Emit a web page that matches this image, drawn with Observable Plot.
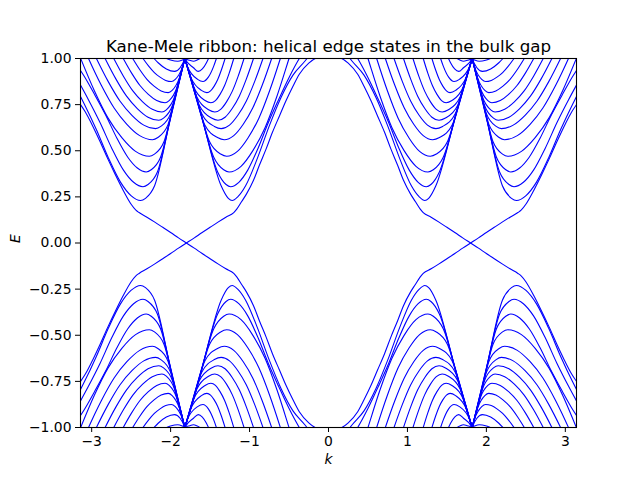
<!DOCTYPE html>
<html>
<head>
<meta charset="utf-8">
<script src="https://cdn.jsdelivr.net/npm/d3@7"></script>
<script src="https://cdn.jsdelivr.net/npm/@observablehq/plot@0.6"></script>
<style>
  body { margin: 0; background: white; }
  #chart svg { display: block; }
</style>
</head>
<body>
<div id="chart"></div>
<script>
// ---- Data (upper-left quadrant: k < 0, E > 0) ----
// The chart is symmetric under k -> -k and E -> -E; the other quadrants mirror these.
const titleText = "Kane-Mele ribbon: helical edge states in the bulk gap";
const xTicks = [-3, -2, -1, 0, 1, 2, 3];
const yTicks = [-1, -0.75, -0.5, -0.25, 0, 0.25, 0.5, 0.75, 1];

// Edge band: left arm, gap-crossing edge state, then the central dome down to k = 0
const edgeBand = [
  [-3.1416, 0.75], [-3.08, 0.71], [-3.0, 0.645], [-2.9, 0.555], [-2.8, 0.46], [-2.7, 0.37],
  [-2.6, 0.285], [-2.5, 0.21], [-2.44, 0.178], [-2.4, 0.165], [-2.3, 0.14], [-2.2, 0.113],
  [-2.1, 0.085], [-2.0, 0.057], [-1.9, 0.028], [-1.8, 0.0], [-1.7, -0.028], [-1.6, -0.057],
  [-1.5, -0.085], [-1.4, -0.113], [-1.3, -0.14], [-1.2, -0.165], [-1.16, -0.185], [-1.1, -0.225],
  [-1.04, -0.265], [-0.95, -0.34], [-0.877, -0.42], [-0.79, -0.51], [-0.71, -0.6], [-0.62, -0.69],
  [-0.54, -0.77], [-0.45, -0.85], [-0.37, -0.915], [-0.25, -0.975], [-0.12, -1.01], [0, -1.02]
];

// Bulk sub-bands of the outer valley (k from -pi to about -1.8)
const outerValleyBands = [
  [[-3.1416,0.794],[-3.094,0.754],[-2.941,0.615],[-2.788,0.461],[-2.635,0.330],[-2.502,0.257],[-2.38,0.23],[-2.318,0.242],[-2.203,0.31],[-2.012,0.655],[-1.82,1.0],[-1.79,1.054]],
  [[-3.1416,0.856],[-3.043,0.778],[-2.8945,0.653],[-2.746,0.514],[-2.5975,0.395],[-2.4688,0.329],[-2.35,0.305],[-2.286,0.317],[-2.1675,0.385],[-1.9937,0.6925],[-1.82,1.0],[-1.79,1.053]],
  [[-3.1416,0.935],[-3.1005,0.9078],[-2.961,0.8032],[-2.8215,0.6925],[-2.682,0.5695],[-2.5425,0.465],[-2.4216,0.4065],[-2.31,0.385],[-2.246,0.397],[-2.1275,0.465],[-1.9737,0.7325],[-1.82,1.0],[-1.79,1.052]],
  [[-3.1416,1.002],[-2.966,0.8251],[-2.792,0.6767],[-2.618,0.5707],[-2.444,0.4965],[-2.27,0.47],[-2.2046,0.482],[-2.0832,0.55],[-1.9516,0.775],[-1.82,1.0],[-1.79,1.051]],
  [[-3.1416,1.10],[-3.04,1.0],[-2.878,0.8548],[-2.716,0.7316],[-2.554,0.6436],[-2.392,0.582],[-2.23,0.56],[-2.1615,0.572],[-2.0343,0.64],[-1.9271,0.82],[-1.82,1.0],[-1.79,1.05]],
  [[-3.09,1.1368],[-2.94,1.0],[-2.79,0.8746],[-2.64,0.7682],[-2.49,0.6922],[-2.34,0.639],[-2.19,0.62],[-2.1241,0.632],[-2.0018,0.70],[-1.9109,0.85],[-1.82,1.0],[-1.79,1.05]],
  [[-2.966,1.1206],[-2.83,1.0],[-2.694,0.8895],[-2.558,0.7957],[-2.422,0.7287],[-2.286,0.6818],[-2.15,0.665],[-2.0896,0.677],[-1.9774,0.745],[-1.8987,0.8725],[-1.82,1.0],[-1.79,1.049]],
  [[-2.842,1.1044],[-2.72,1.0],[-2.598,0.9043],[-2.476,0.8231],[-2.354,0.7651],[-2.232,0.7245],[-2.11,0.71],[-2.0547,0.722],[-1.9521,0.79],[-1.886,0.895],[-1.82,1.0],[-1.79,1.048]],
  [[-2.706,1.0864],[-2.60,1.0],[-2.494,0.9208],[-2.388,0.8536],[-2.282,0.8056],[-2.176,0.772],[-2.07,0.76],[-2.0184,0.772],[-1.9226,0.84],[-1.8713,0.92],[-1.82,1.0],[-1.79,1.047]],
  [[-2.57,1.0666],[-2.48,1.0],[-2.39,0.939],[-2.30,0.8872],[-2.21,0.8502],[-2.12,0.8243],[-2.03,0.815],[-1.9805,0.827],[-1.8886,0.895],[-1.82,1.0],[-1.79,1.046]],
  [[-2.422,1.045],[-2.35,1.0],[-2.278,0.9588],[-2.206,0.9238],[-2.134,0.8988],[-2.062,0.8813],[-1.99,0.875],[-1.941,0.887],[-1.85,0.955],[-1.82,1.0],[-1.79,1.045]],
  [[-2.262,1.0252],[-2.21,1.0],[-2.158,0.9769],[-2.054,0.9433],[-1.95,0.93],[-1.88,0.95],[-1.82,1.0],[-1.79,1.045]],
  [[-2.1,1.01],[-2.05,1.0],[-1.99,0.99],[-1.91,0.985],[-1.86,0.99],[-1.82,1.0],[-1.79,1.04]]
];

// Bulk sub-bands of the inner valley (k from about -1.8 towards 0)
const innerValleyBands = [
  [[-1.85,1.045],[-1.82,1.0],[-1.59,0.655],[-1.36,0.31],[-1.269,0.242],[-1.22,0.23],[-1.15,0.25],[-1.05,0.31],[-0.9,0.46],[-0.75,0.635],[-0.6,0.79],[-0.45,0.91],[-0.3,0.985],[-0.2,1.04],[-0.1,1.08]],
  [[-1.85,1.044],[-1.82,1.0],[-1.6122,0.6925],[-1.4045,0.385],[-1.2976,0.317],[-1.24,0.305],[-1.136,0.329],[-1.023,0.395],[-0.892,0.514],[-0.762,0.653],[-0.631,0.778],[-0.501,0.896],[-0.37,1.0],[-0.24,1.083]],
  [[-1.85,1.044],[-1.82,1.0],[-1.6368,0.7325],[-1.4536,0.465],[-1.3278,0.397],[-1.26,0.385],[-1.108,0.4158],[-0.956,0.5019],[-0.804,0.6249],[-0.652,0.797],[-0.50,1.0],[-0.348,1.2064]],
  [[-1.85,1.043],[-1.82,1.0],[-1.6638,0.775],[-1.5075,0.55],[-1.3661,0.482],[-1.29,0.47],[-1.154,0.4965],[-1.018,0.5707],[-0.882,0.6767],[-0.746,0.8251],[-0.61,1.0],[-0.474,1.1908]],
  [[-1.85,1.043],[-1.82,1.0],[-1.6932,0.82],[-1.5665,0.64],[-1.4063,0.572],[-1.32,0.56],[-1.20,0.582],[-1.08,0.6436],[-0.96,0.7316],[-0.84,0.8548],[-0.72,1.0],[-0.60,1.1584]],
  [[-1.85,1.042],[-1.82,1.0],[-1.7129,0.85],[-1.6057,0.70],[-1.446,0.632],[-1.36,0.62],[-1.254,0.639],[-1.148,0.6922],[-1.042,0.7682],[-0.936,0.8746],[-0.83,1.0],[-0.724,1.1368]],
  [[-1.85,1.041],[-1.82,1.0],[-1.7276,0.8725],[-1.6352,0.745],[-1.4823,0.677],[-1.40,0.665],[-1.31,0.6818],[-1.22,0.7287],[-1.13,0.7957],[-1.04,0.8895],[-0.95,1.0],[-0.86,1.1206]],
  [[-1.85,1.041],[-1.82,1.0],[-1.7428,0.895],[-1.6656,0.79],[-1.519,0.722],[-1.44,0.71],[-1.366,0.7245],[-1.292,0.7651],[-1.218,0.8231],[-1.144,0.9043],[-1.07,1.0],[-0.996,1.1044]],
  [[-1.85,1.04],[-1.82,1.0],[-1.7603,0.92],[-1.7006,0.84],[-1.5637,0.772],[-1.49,0.76],[-1.432,0.772],[-1.374,0.8056],[-1.316,0.8536],[-1.258,0.9208],[-1.20,1.0],[-1.142,1.0864]],
  [[-1.85,1.04],[-1.82,1.0],[-1.7405,0.895],[-1.6102,0.827],[-1.54,0.815],[-1.494,0.8243],[-1.448,0.8502],[-1.402,0.8872],[-1.356,0.939],[-1.31,1.0],[-1.264,1.0666]],
  [[-1.85,1.04],[-1.82,1.0],[-1.7854,0.955],[-1.6584,0.887],[-1.59,0.875],[-1.522,0.8988],[-1.454,0.9588],[-1.42,1.0],[-1.386,1.045]],
  [[-1.85,1.04],[-1.82,1.0],[-1.71,0.95],[-1.65,0.93],[-1.598,0.9433],[-1.546,0.9769],[-1.52,1.0],[-1.494,1.0252]],
  [[-1.85,1.03],[-1.82,1.0],[-1.76,0.99],[-1.71,0.985],[-1.67,0.99],[-1.63,1.0],[-1.6,1.01]]
];

// ---- Build the table (mirror the read quadrant into all four) ----
const rows = [];
function addCurve(points, id) {
  for (const sK of [1, -1]) {
    for (const sE of [1, -1]) {
      const series = points.map(([k, E]) => ({k: sK * k, E: sE * E, id: `${id}|${sK}|${sE}`}));
      series.sort((a, b) => a.k - b.k);
      rows.push(...series);
    }
  }
}
addCurve(edgeBand, "edge");
outerValleyBands.forEach((b, i) => addCurve(b, "outer" + i));
innerValleyBands.forEach((b, i) => addCurve(b, "inner" + i));

const minus = s => s.replace("-", "\u2212");

const chart = Plot.plot({
  width: 640,
  height: 480,
  marginLeft: 80,
  marginRight: 64,
  marginTop: 58,
  marginBottom: 53,
  style: {fontFamily: "DejaVu Sans", fontSize: "13.9px", background: "white", color: "black"},
  x: {domain: [-Math.PI, Math.PI], ticks: xTicks, tickFormat: d => minus(String(d)), tickSize: 5, tickPadding: 4, label: null},
  y: {domain: [-1, 1], ticks: yTicks, tickFormat: d => minus(d.toFixed(2)), tickSize: 5, tickPadding: 4, label: null},
  marks: [
    Plot.line(rows, {x: "k", y: "E", z: "id", stroke: "#0000ff", strokeWidth: 1.1, curve: "monotone-x", clip: true}),
    Plot.frame({stroke: "black", strokeWidth: 1.1}),
    Plot.text([titleText], {text: d => d, frameAnchor: "top", lineAnchor: "bottom", dy: -7, fontSize: 16.7}),
    Plot.text(["k"], {text: d => d, frameAnchor: "bottom", lineAnchor: "top", dy: 27, fontStyle: "italic"}),
    Plot.text(["E"], {text: d => d, frameAnchor: "left", rotate: -90, dx: -65, fontStyle: "italic"})
  ]
});
document.getElementById("chart").appendChild(chart);
</script>
</body>
</html>
